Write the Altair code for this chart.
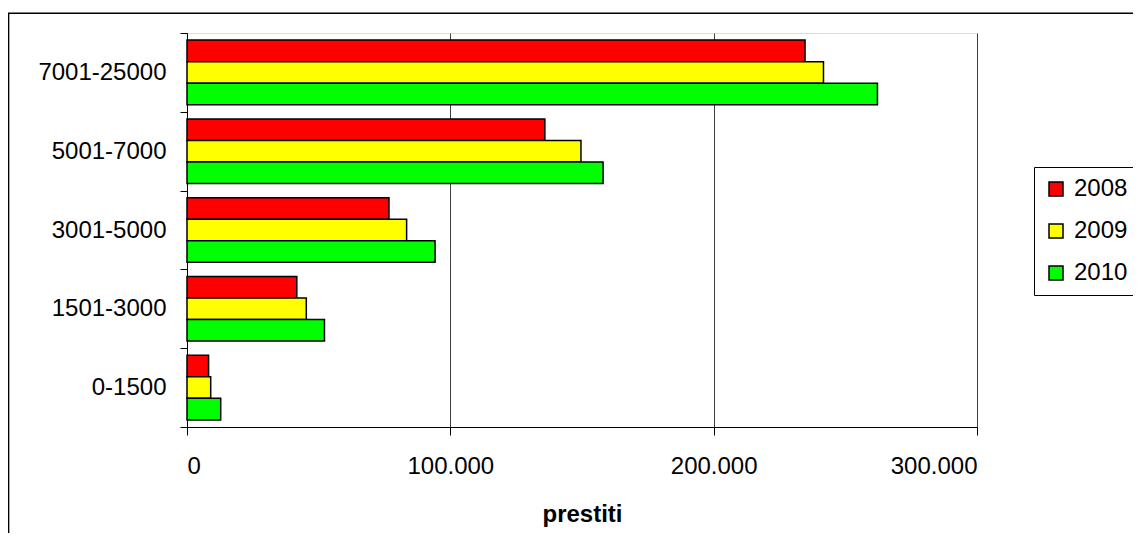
import altair as alt
import pandas as pd

categories = ["7001-25000", "5001-7000", "3001-5000", "1501-3000", "0-1500"]
years = ["2008", "2009", "2010"]
v2008 = [234700, 135900, 76700, 41700, 8200]
v2009 = [241700, 149600, 83400, 45300, 9000]
v2010 = [262200, 158000, 94200, 52200, 12800]
x_ticks = [0, 100000, 200000, 300000]
colors = ["#FF0000", "#FFFF00", "#00FF00"]

rows = []
for yr, vals in zip(years, [v2008, v2009, v2010]):
    for c, v in zip(categories, vals):
        rows.append({"fascia": c, "anno": yr, "prestiti": v})
df = pd.DataFrame(rows)

FONT = "Liberation Sans"

frame = alt.Chart(pd.DataFrame({"a": [0]})).mark_rect(
    fill="white", fillOpacity=0, stroke="black", strokeWidth=1.5
).encode(
    x=alt.value(-178.4), y=alt.value(-19.8), x2=alt.value(1300), y2=alt.value(800)
)

bars = alt.Chart(df).mark_bar(stroke="black", strokeWidth=1.5).encode(
    x=alt.X(
        "prestiti:Q",
        scale=alt.Scale(domain=[0, 300000], nice=False, zero=True),
        axis=alt.Axis(
            values=x_ticks,
            title="prestiti",
            labelExpr="datum.value == 0 ? '0' : format(datum.value / 1000, 'd') + '.000'",
            grid=True, gridColor="#404040", gridWidth=1,
            tickSize=8, tickColor="black", domainColor="black",
            labelPadding=19, labelFontSize=24, labelFont=FONT, labelColor="black",
            titleFontSize=24, titleFont=FONT, titleFontWeight="bold", titleColor="black",
            titleY=94, titleBaseline="alphabetic",
        ),
    ),
    y=alt.Y(
        "fascia:N",
        sort=categories,
        scale=alt.Scale(paddingInner=0, paddingOuter=0),
        axis=alt.Axis(
            title=None, tickBand="extent", tickSize=7, tickColor="black",
            domainColor="black", grid=False,
            labelPadding=14, labelFontSize=24, labelFont=FONT, labelColor="black",
        ),
    ),
    yOffset=alt.YOffset(
        "anno:N", sort=years, scale=alt.Scale(paddingInner=0, paddingOuter=0.33)
    ),
    color=alt.Color(
        "anno:N",
        sort=years,
        scale=alt.Scale(domain=years, range=colors),
        legend=alt.Legend(
            title=None, orient="none", legendX=847, legendY=134,
            symbolType="square", symbolSize=196, symbolStrokeColor="black",
            symbolStrokeWidth=1.5, symbolOpacity=1,
            labelFontSize=24, labelFont=FONT, labelColor="black", labelOffset=6,
            padding=10, rowPadding=18, strokeColor="black", fillColor="white",
        ),
    ),
)

chart = alt.layer(frame, bars).properties(
    width=790,
    height=394,
    autosize=alt.AutoSizeParams(type="none"),
    padding={"left": 179, "top": 25, "right": 156, "bottom": 106},
    background="white",
).configure_view(stroke=None).configure(font=FONT)

chart.save("out.html", embed_options={"renderer": "svg", "actions": False})
